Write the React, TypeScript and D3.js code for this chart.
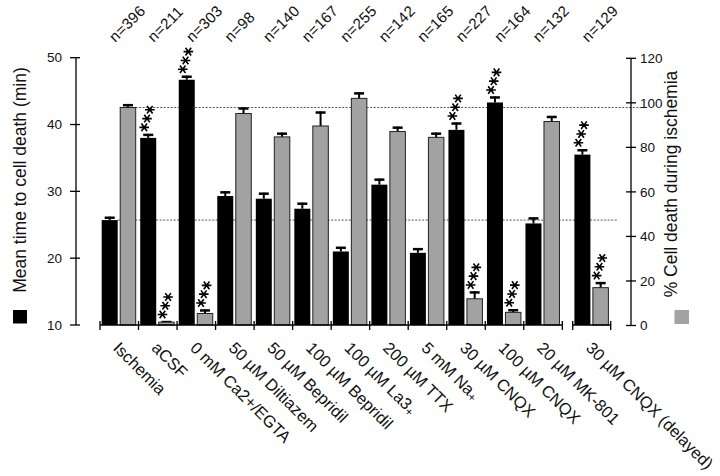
import React from "react";
import * as d3 from "d3";

const categories = [
  "Ischemia",
  "aCSF",
  "0 mM Ca2+/EGTA",
  "50 µM Diltiazem",
  "50 µM Bepridil",
  "100 µM Bepridil",
  "100 µM La3+",
  "200 µM TTX",
  "5 mM Na+",
  "30 µM CNQX",
  "100 µM CNQX",
  "20 µM MK-801",
  "30 µM CNQX (delayed)",
];
const nLabels = ["n=396", "n=211", "n=303", "n=98", "n=140", "n=167", "n=255", "n=142", "n=165", "n=227", "n=164", "n=132", "n=129"];
const timeMean = [25.7, 38.0, 46.7, 29.3, 28.9, 27.4, 21.0, 31.0, 20.8, 39.2, 43.3, 25.2, 35.5];
const timeErr = [0.5, 0.6, 0.6, 0.7, 0.9, 0.9, 0.7, 0.9, 0.7, 1.1, 0.9, 0.9, 0.8];
const deathMean = [97.9, 1.5, 5.4, 95.2, 84.7, 89.6, 102.0, 87.1, 84.5, 12.0, 5.9, 91.6, 17.0];
const deathErr = [1.5, 0.5, 1.8, 2.7, 1.9, 6.5, 2.7, 2.2, 2.1, 3.3, 1.4, 2.5, 2.5];
const timeSig = [false, true, true, false, false, false, false, false, false, true, true, false, true];
const deathSig = [false, true, true, false, false, false, false, false, false, true, true, false, true];
const leftTicks = [10, 20, 30, 40, 50];
const rightTicks = [0, 20, 40, 60, 80, 100, 120];
const leftTitle = "Mean time to cell death (min)";
const rightTitle = "% Cell death during ischemia";

const FONT = "'Liberation Sans', Arial, Helvetica, sans-serif";

export default function App() {
  const yL = d3.scaleLinear().domain([10, 50]).range([325, 57.7]);
  const yR = d3.scaleLinear().domain([0, 120]).range([325.5, 58.3]);
  const gx = d3.scaleLinear().domain([0, 12]).range([100, 562.3]);
  const gw = gx(1) - gx(0);
  const groupX = (i: number) => gx(i) + (i === 12 ? 10.4 : 0);
  const blackX = (i: number) => groupX(i) + 1.7;
  const grayX = (i: number) => groupX(i) + 20.2;
  const bw = 16;
  const gbw = 15.5;
  const base = 325;

  const starPath = (cx: number, cy: number) =>
    `M${cx - 4.8},${cy}H${cx + 4.8}M${cx - 2.8},${cy - 3.8}L${cx + 2.8},${cy + 3.8}M${cx + 2.8},${cy - 3.8}L${cx - 2.8},${cy + 3.8}`;

  const stars = (bc: number, top: number, key: string) => (
    <g key={key} stroke="#000" strokeWidth={1.6} fill="none">
      {[0, 1, 2].map((k) => (
        <path key={k} d={starPath(bc - 4 + 2.8 * k, top - 6.5 - 8.8 * k)} />
      ))}
    </g>
  );

  const errBar = (cx: number, y0: number, y1: number, key: string) => (
    <g key={key} stroke="#000">
      <line x1={cx} x2={cx} y1={y0} y2={y1} strokeWidth={2} />
      <line x1={cx - 5} x2={cx + 5} y1={y1 + 1} y2={y1 + 1} strokeWidth={2.5} />
    </g>
  );

  const renderCat = (s: string) => {
    const m = s.match(/^(.*?)(\+)$/);
    if (m && !s.includes("/")) {
      return (
        <>
          {m[1]}
          <tspan fontSize={12} dy={2}>+</tspan>
        </>
      );
    }
    return s;
  };

  const seg1 = d3.range(13).map((i) => gx(i));
  const seg2 = [groupX(12), groupX(12) + gw - 0.5];

  return (
    <svg width={720} height={476} style={{ position: "absolute", left: 0, top: 0, background: "#fff" }} fontFamily={FONT}>
      <rect x={0} y={0} width={720} height={476} fill="#fff" />

      {/* reference dotted lines */}
      <line x1={grayX(0) + gbw} x2={641} y1={yR(deathMean[0])} y2={yR(deathMean[0])} stroke="#555" strokeWidth={1} strokeDasharray="2,1.5" />
      <line x1={blackX(0) + bw} x2={617} y1={yL(timeMean[0])} y2={yL(timeMean[0])} stroke="#555" strokeWidth={1} strokeDasharray="2,1.5" />

      {/* bars */}
      {categories.map((c, i) => {
        const bc = blackX(i) + bw / 2;
        const gc = grayX(i) + gbw / 2;
        const tTop = yL(timeMean[i] + timeErr[i]);
        const dTop = yR(deathMean[i] + deathErr[i]);
        return (
          <g key={c}>
            {errBar(bc, yL(timeMean[i]), tTop, "eb")}
            <rect x={blackX(i)} y={yL(timeMean[i])} width={bw} height={base - yL(timeMean[i])} fill="#000" />
            {errBar(gc, yR(deathMean[i]), dTop, "eg")}
            <rect x={grayX(i)} y={yR(deathMean[i])} width={gbw} height={base - yR(deathMean[i])} fill="#a2a2a2" stroke="#222" strokeWidth={1} />
            {timeSig[i] && stars(bc, tTop, "sb")}
            {deathSig[i] && stars(gc, dTop, "sg")}
          </g>
        );
      })}

      {/* x axis */}
      <g stroke="#000" strokeWidth={1.3}>
        <line x1={seg1[0]} x2={seg1[12]} y1={base} y2={base} />
        {seg1.map((x, i) => (
          <line key={"t" + i} x1={x} x2={x} y1={base - 4} y2={base + 5} />
        ))}
        <line x1={seg2[0]} x2={seg2[1]} y1={base} y2={base} />
        {seg2.map((x, i) => (
          <line key={"u" + i} x1={x} x2={x} y1={base - 4} y2={base + 5} />
        ))}
      </g>

      {/* left axis */}
      <g stroke="#000" strokeWidth={1.3}>
        <line x1={76} x2={76} y1={yL(50)} y2={yL(10)} />
        {leftTicks.map((t) => (
          <line key={t} x1={70} x2={80} y1={yL(t)} y2={yL(t)} />
        ))}
      </g>
      {leftTicks.map((t) => (
        <text key={t} x={62} y={yL(t)} dy="0.35em" textAnchor="end" fontSize={13.5} fill="#111">
          {t}
        </text>
      ))}

      {/* right axis */}
      <g stroke="#000" strokeWidth={1.3}>
        <line x1={631} x2={631} y1={yR(120)} y2={yR(0)} />
        {rightTicks.map((t) => (
          <line key={t} x1={626} x2={636} y1={yR(t)} y2={yR(t)} />
        ))}
      </g>
      {rightTicks.map((t) => (
        <text key={t} x={640} y={yR(t)} dy="0.35em" textAnchor="start" fontSize={13.5} fill="#111">
          {t}
        </text>
      ))}

      {/* axis titles */}
      <text transform={`translate(26,180) rotate(-90)`} textAnchor="middle" fontSize={17.5} fill="#111">
        {leftTitle}
      </text>
      <text transform={`translate(677,184) rotate(-90)`} textAnchor="middle" fontSize={17.5} fill="#111">
        {rightTitle}
      </text>

      {/* legend squares */}
      <rect x={13} y={310} width={14} height={13.5} fill="#000" />
      <rect x={674.5} y={310} width={14.5} height={14} fill="#a2a2a2" />

      {/* n labels */}
      {nLabels.map((n, i) => (
        <text key={n + i} transform={`translate(${groupX(i) + gw / 2 - 4},43) rotate(-45)`} fontSize={15.2} letterSpacing={0.3} fill="#111">
          {n}
        </text>
      ))}

      {/* category labels */}
      {categories.map((c, i) => (
        <text key={c + "l"} transform={`translate(${groupX(i) + gw / 2 - 7},349) rotate(45)`} fontSize={16.5} fill="#111">
          {renderCat(c)}
        </text>
      ))}
    </svg>
  );
}
